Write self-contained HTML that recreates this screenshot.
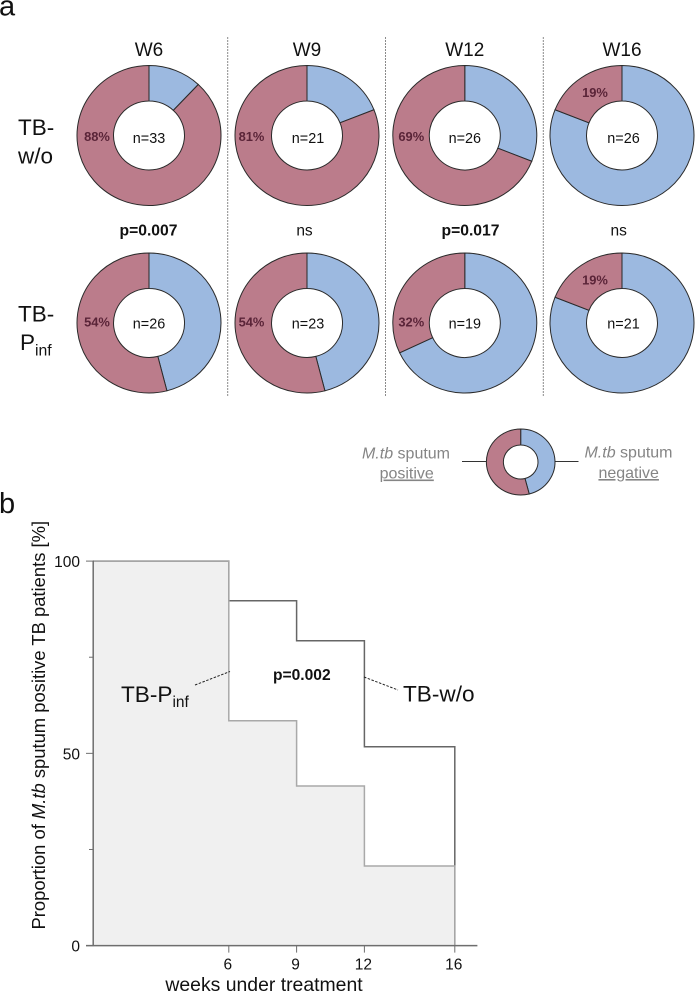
<!DOCTYPE html>
<html lang="en">
<head>
<meta charset="utf-8">
<title>Sputum conversion chart</title>
<style>
html,body{margin:0;padding:0;background:#fff;}
svg{display:block;font-family:"Liberation Sans",Arial,sans-serif;}
</style>
</head>
<body>
<svg id="chart" xmlns="http://www.w3.org/2000/svg" width="695" height="992" viewBox="0 0 695 992">
  <text x="-1" y="15.5" font-size="29" fill="#111">a</text>
  <text x="-1" y="513" font-size="29" fill="#111">b</text>

  <g id="separators"></g>
  <g id="donuts"></g>

  <g font-size="22.5" fill="#111">
    <text x="18" y="135">TB-</text>
    <text x="18" y="163.5">w/o</text>
  </g>
  <g font-size="22.5" fill="#111">
    <text x="18" y="321.5">TB-</text>
    <text x="20" y="350">P<tspan font-size="15.8" dy="5.5">inf</tspan></text>
  </g>

  <g id="legend">
    <line x1="462" y1="461.5" x2="487" y2="461.5" stroke="#333" stroke-width="1"></line>
    <line x1="555" y1="461.5" x2="578.5" y2="461.5" stroke="#333" stroke-width="1"></line>
    <g font-size="16" fill="#858585" text-anchor="middle">
      <text x="406" y="458.5"><tspan font-style="italic">M.tb</tspan> sputum</text>
      <text x="406.7" y="478.5" text-decoration="underline">positive</text>
      <text x="628.5" y="457.5"><tspan font-style="italic">M.tb</tspan> sputum</text>
      <text x="628.7" y="478" text-decoration="underline">negative</text>
    </g>
  </g>

  <g id="km"></g>

  <g fill="#111">
    <text x="121" y="702" font-size="22.6">TB-P<tspan font-size="15.5" dy="5">inf</tspan></text>
    <line x1="195" y1="685" x2="230" y2="671.5" stroke="#222" stroke-width="1" stroke-dasharray="2.5 1.5"></line>
    <text x="403" y="701.7" font-size="22.6">TB-w/o</text>
    <line x1="364" y1="677" x2="398" y2="690" stroke="#222" stroke-width="1" stroke-dasharray="2.5 1.5"></line>
    <text x="273" y="680" font-size="15.6" font-weight="bold">p=0.002</text>
  </g>
</svg>
<script>
// Donut data
const weekLabels = ['W6', 'W9', 'W12', 'W16'];
const positiveWo = [88, 81, 69, 19];
const positivePinf = [54, 54, 32, 19];
const countsWo = [33, 21, 26, 26];
const countsPinf = [26, 23, 19, 21];
const pValues = ['p=0.007', 'ns', 'p=0.017', 'ns'];
const legendPositive = 54;

// Survival data
const stepWeeks = [0, 6, 9, 12, 16];
const survivalWo = [100, 89.7, 79.3, 51.7, 0];
const survivalPinf = [100, 58.5, 41.5, 20.7, 0];
const xTicks = [6, 9, 12, 16];
const yTicks = [0, 25, 50, 75, 100];
const yTickLabels = ['0', '', '50', '', '100'];

const NS = 'http://www.w3.org/2000/svg';
function mk(tag, attrs, parent, text) {
  const e = document.createElementNS(NS, tag);
  for (const k in attrs) e.setAttribute(k, attrs[k]);
  if (text !== undefined) e.textContent = text;
  parent.appendChild(e);
  return e;
}

const RED = '#bb7c8b';
const BLUE = '#9cb9e0';
const EDGE = '#2a2a2a';

function sector(cx, cy, rx, ry, irx, iry, a0, a1) {
  const p = (r1, r2, a) => (cx + r1 * Math.sin(a)).toFixed(2) + ' ' + (cy - r2 * Math.cos(a)).toFixed(2);
  const large = (a1 - a0) > Math.PI ? 1 : 0;
  return 'M' + p(rx, ry, a0) + 'A' + rx + ' ' + ry + ' 0 ' + large + ' 1 ' + p(rx, ry, a1) +
         'L' + p(irx, iry, a1) + 'A' + irx + ' ' + iry + ' 0 ' + large + ' 0 ' + p(irx, iry, a0) + 'Z';
}

function donut(parent, cx, cy, rx, ry, irx, iry, pos, name) {
  const g = mk('g', {}, parent);
  
  
  const split = 2 * Math.PI * (1 - pos / 100);
  const blue = mk('path', {d: sector(cx, cy, rx, ry, irx, iry, 0, split), fill: BLUE, stroke: EDGE, 'stroke-width': 1}, g);
  
  
  const red = mk('path', {d: sector(cx, cy, rx, ry, irx, iry, split, 2 * Math.PI - 1e-4), fill: RED, stroke: EDGE, 'stroke-width': 1}, g);
  
  
  return g;
}

const sepGroup = document.getElementById('separators');
const sepX = [227.7, 385.5, 543.3];
sepX.forEach(function (x) {
  const l = mk('line', {x1: x, x2: x, y1: 37, y2: 396, stroke: '#8a8a8a', 'stroke-width': 1, 'stroke-dasharray': '2 1'}, sepGroup);
  
  
});

const donutGroup = document.getElementById('donuts');
const colX = [149, 307, 464.8, 622];
const rowY = [135.5, 323];
const rowData = [positiveWo, positivePinf];
const rowCounts = [countsWo, countsPinf];
const rowNames = ['tb-wo', 'tb-pinf'];
const pLabelX = [148.5, 304.5, 470.5, 618.7];
const countDx = [0, 1, 0, 1.5];
const countDy = [7.5, 5.5];
const pctDx = [-52, -55.5, -53.5, -53.5];
const pctDy = [5.5, 3.5];

weekLabels.forEach(function (w, i) {
  const t = mk('text', {x: colX[i], y: 56, 'font-size': 19, fill: '#111', 'text-anchor': 'middle'}, donutGroup, w);
  
  
  const p = mk('text', {x: pLabelX[i], y: 235.7, 'font-size': pValues[i] === 'ns' ? 15.5 : 15.7, fill: '#111', 'text-anchor': 'middle', 'font-weight': pValues[i] === 'ns' ? 'normal' : 'bold'}, donutGroup, pValues[i]);
  
  
  rowY.forEach(function (cy, r) {
    const val = rowData[r][i];
    donut(donutGroup, colX[i], cy, 72, 70, 35.5, 34.5, val, 'donut-' + rowNames[r] + '-' + w.toLowerCase());
    const nT = mk('text', {x: colX[i] + countDx[i], y: cy + countDy[r], 'font-size': 14.4, fill: '#111', 'text-anchor': 'middle'}, donutGroup, 'n=' + rowCounts[r][i]);
    
    
    let lx, ly;
    if (val > 25) {
      lx = colX[i] + pctDx[i];
      ly = cy + pctDy[r];
    } else {
      lx = colX[i] - 27;
      ly = cy - 43 + 4.5;
    }
    const pT = mk('text', {x: lx, y: ly, 'font-size': 12.9, 'font-weight': 'bold', fill: '#5a2438', 'text-anchor': 'middle'}, donutGroup, val + '%');
    
    
  });
});

const legendGroup = document.getElementById('legend');
donut(legendGroup, 520.7, 462, 34.3, 33, 17.3, 17, legendPositive, 'legend-donut');

// Survival plot
const km = document.getElementById('km');
const xOf = function (w) { return 93.2 + 22.6 * w; };
const yOf = function (v) { return 945.6 - 3.845 * v; };
const xAxisEnd = 17;
const AXIS = '#6e6e6e';

function stepPoints(values) {
  const pts = [[xOf(stepWeeks[0]), yOf(values[0])]];
  for (let i = 1; i < stepWeeks.length; i++) {
    pts.push([xOf(stepWeeks[i]), yOf(values[i - 1])]);
    pts.push([xOf(stepWeeks[i]), yOf(values[i])]);
  }
  return pts;
}
const toStr = function (pts) { return pts.map(function (p) { return p[0].toFixed(1) + ',' + p[1].toFixed(1); }).join(' '); };

const ptsPinf = stepPoints(survivalPinf);
const fillArea = mk('polygon', {points: toStr(ptsPinf.concat([[xOf(0), yOf(0)]])), fill: '#f0f0f0'}, km);



const lineWo = mk('polyline', {points: toStr(stepPoints(survivalWo)), fill: 'none', stroke: '#666', 'stroke-width': 1.5}, km);



const linePinf = mk('polyline', {points: toStr(ptsPinf), fill: 'none', stroke: '#a9a9a9', 'stroke-width': 1.5}, km);



const yAxis = mk('line', {x1: xOf(0), x2: xOf(0), y1: yOf(100) - 0.5, y2: yOf(0) + 0.5, stroke: AXIS, 'stroke-width': 1.5}, km);


const xAxis = mk('line', {x1: 86, x2: xOf(xAxisEnd), y1: yOf(0), y2: yOf(0), stroke: AXIS, 'stroke-width': 1.5}, km);



yTicks.forEach(function (v, i) {
  const major = yTickLabels[i] !== '';
  const tick = mk('line', {x1: major ? 86 : 89, x2: xOf(0), y1: yOf(v), y2: yOf(v), stroke: AXIS, 'stroke-width': 1}, km);
  
  
  if (major) {
    const t = mk('text', {x: 80, y: yOf(v) + 6, 'font-size': 15.5, fill: '#111', 'text-anchor': 'end'}, km, yTickLabels[i]);
    
    
  }
});
xTicks.forEach(function (w) {
  const tick = mk('line', {x1: xOf(w), x2: xOf(w), y1: yOf(0), y2: yOf(0) + 7, stroke: AXIS, 'stroke-width': 1}, km);
  
  
  const t = mk('text', {x: xOf(w) - 1, y: 969.5, 'font-size': 15.5, fill: '#111', 'text-anchor': 'middle'}, km, String(w));
  
  
});

const xTitle = mk('text', {x: 264, y: 991, 'font-size': 19.4, fill: '#111', 'text-anchor': 'middle'}, km, 'weeks under treatment');



const yTitle = mk('text', {x: 0, y: 0, transform: 'translate(45 929.5) rotate(-90)', 'font-size': 18.4, fill: '#111'}, km);


mk('tspan', {}, yTitle, 'Proportion of ');
mk('tspan', {'font-style': 'italic'}, yTitle, 'M.tb');
mk('tspan', {}, yTitle, ' sputum positive TB patients [%]');
</script>
</body>
</html>
